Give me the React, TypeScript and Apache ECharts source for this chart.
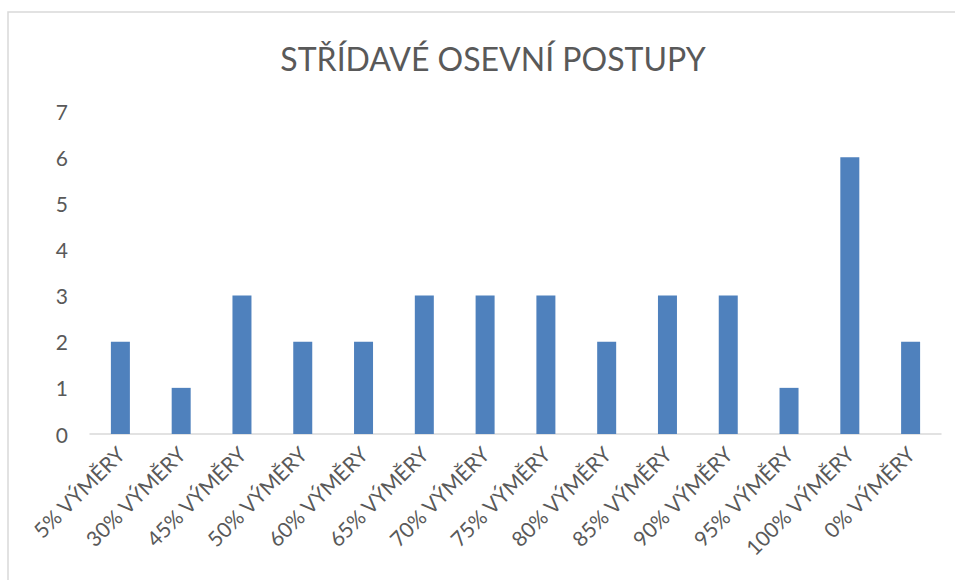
import React, { useEffect, useRef } from "react";
import * as echarts from "echarts";

const titleText = "STŘÍDAVÉ OSEVNÍ POSTUPY";
const categories = [
  "5% VÝMĚRY",
  "30% VÝMĚRY",
  "45% VÝMĚRY",
  "50% VÝMĚRY",
  "60% VÝMĚRY",
  "65% VÝMĚRY",
  "70% VÝMĚRY",
  "75% VÝMĚRY",
  "80% VÝMĚRY",
  "85% VÝMĚRY",
  "90% VÝMĚRY",
  "95% VÝMĚRY",
  "100% VÝMĚRY",
  "0% VÝMĚRY",
];
const values = [2, 1, 3, 2, 2, 3, 3, 3, 2, 3, 3, 1, 6, 2];
const yMin = 0;
const yMax = 7;
const yStep = 1;

const FONT = "Lato, 'Open Sans', sans-serif";
const TEXT_COLOR = "#595959";

export default function App() {
  const ref = useRef<HTMLDivElement>(null);
  useEffect(() => {
    if (!ref.current) return;
    const chart = echarts.init(ref.current, undefined, { renderer: "svg" });
    chart.setOption({
      animation: false,
      backgroundColor: "#ffffff",
      title: {
        text: titleText,
        left: 488,
        top: 37,
        textAlign: "center",
        textStyle: {
          fontFamily: FONT,
          fontSize: 32,
          fontWeight: "normal",
          color: TEXT_COLOR,
        },
      },
      graphic: [
        {
          type: "rect",
          shape: { x: 8, y: 12, width: 1000, height: 1000 },
          style: { fill: "none", stroke: "#d9d9d9", lineWidth: 1.5 },
          silent: true,
        },
      ],
      grid: { left: 90, right: 14, top: 111, bottom: 146, containLabel: false },
      xAxis: {
        type: "category",
        data: categories,
        axisLine: { show: true, lineStyle: { color: "#d9d9d9", width: 1.5 } },
        axisTick: { show: false },
        axisLabel: {
          rotate: 45,
          interval: 0,
          margin: 16,
          fontFamily: FONT,
          fontSize: 21,
          color: TEXT_COLOR,
        },
      },
      yAxis: {
        type: "value",
        min: yMin,
        max: yMax,
        interval: yStep,
        axisLine: { show: false },
        axisTick: { show: false },
        splitLine: { show: false },
        axisLabel: {
          margin: 22,
          fontFamily: FONT,
          fontSize: 21,
          color: TEXT_COLOR,
        },
      },
      series: [
        {
          type: "bar",
          data: values,
          barWidth: 19,
          itemStyle: { color: "#4f81bd" },
        },
      ],
    });
    return () => chart.dispose();
  }, []);
  return (
    <div
      ref={ref}
      style={{ position: "fixed", left: 0, top: 0, width: 955, height: 580 }}
    />
  );
}
